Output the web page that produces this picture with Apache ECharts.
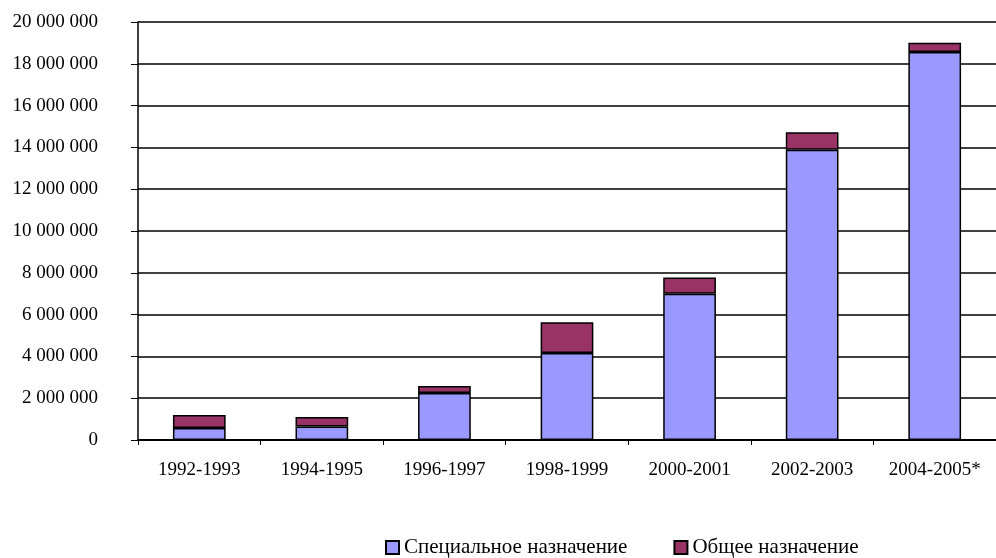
<!DOCTYPE html>
<html><head><meta charset="utf-8">
<script src="https://cdn.jsdelivr.net/npm/echarts@6/dist/echarts.min.js"></script>
<style>html,body{margin:0;padding:0;background:#fff}#c{width:996px;height:558px}</style>
</head><body><div id="c"></div>
<script>
var categories = ['1992-1993','1994-1995','1996-1997','1998-1999','2000-2001','2002-2003','2004-2005*'];
var special = [570000, 640000, 2250000, 4160000, 7000000, 13890000, 18560000];
var general = [630000, 460000, 330000, 1470000, 770000, 830000, 450000];
var seriesNames = ['Специальное назначение', 'Общее назначение'];
var yTicks = {min: 0, max: 20000000, interval: 2000000};

function fmt(v){ return String(v).replace(/\B(?=(\d{3})+(?!\d))/g, ' '); }
var font = '"Liberation Serif", "Times New Roman", serif';
var chart = echarts.init(document.getElementById('c'));
chart.setOption({
  animation: false,
  backgroundColor: '#fff',
  textStyle: {fontFamily: font},
  grid: {left: 138, right: -3, top: 22, bottom: 118, containLabel: false},
  legend: {
    bottom: 0, left: 385, padding: 0, itemGap: 46, itemWidth: 13, itemHeight: 13,
    icon: 'rect',
    textStyle: {fontFamily: font, fontSize: 21, color: '#000'},
    data: seriesNames
  },
  xAxis: {
    type: 'category', data: categories,
    axisLine: {lineStyle: {color: '#000', width: 2}},
    axisTick: {show: true, length: 5, lineStyle: {color: '#000', width: 1}},
    axisLabel: {color: '#000', fontSize: 19, fontFamily: font, margin: 21}
  },
  yAxis: {
    type: 'value', min: yTicks.min, max: yTicks.max, interval: yTicks.interval,
    axisLine: {show: true, lineStyle: {color: '#000', width: 1.5}},
    axisTick: {show: true, length: 7, lineStyle: {color: '#000'}},
    splitLine: {lineStyle: {color: '#000', width: 1.5}},
    axisLabel: {color: '#000', fontSize: 19, fontFamily: font, margin: 40, formatter: fmt}
  },
  series: [
    {name: seriesNames[0], type: 'bar', stack: 's', data: special, barWidth: '43%',
     itemStyle: {color: '#9999FF', borderColor: '#000', borderWidth: 1.5}},
    {name: seriesNames[1], type: 'bar', stack: 's', data: general, barWidth: '43%',
     itemStyle: {color: '#993366', borderColor: '#000', borderWidth: 1.5}}
  ]
});
</script></body></html>
